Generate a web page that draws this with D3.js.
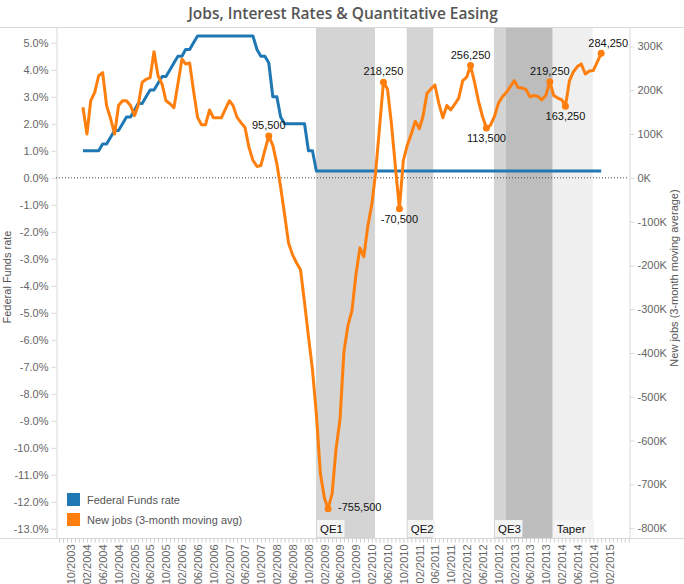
<!DOCTYPE html>
<html><head><meta charset="utf-8">
<script src="https://cdn.jsdelivr.net/npm/d3@7"></script>
<style>
body{margin:0;background:#fff}
svg{display:block}
text{font-family:"Liberation Sans",Arial,sans-serif}
</style>
</head><body>
<svg id="c" width="684" height="584"></svg>
<script>
// ---------------- data ----------------
const firstYear = 2004, firstMonth = 0; // series start Jan 2004, monthly
const fedFunds = [
  1.0,1.0,1.0,1.0,1.0,1.25,1.25,1.5,1.75,1.75,2.0,2.25,
  2.25,2.5,2.75,2.75,3.0,3.25,3.25,3.5,3.75,3.75,4.0,4.25,
  4.5,4.5,4.75,4.75,5.0,5.25,5.25,5.25,5.25,5.25,5.25,5.25,
  5.25,5.25,5.25,5.25,5.25,5.25,5.25,5.25,4.75,4.5,4.5,4.25,
  3.0,3.0,2.25,2.0,2.0,2.0,2.0,2.0,2.0,1.0,1.0,0.25,
  0.25,0.25,0.25,0.25,0.25,0.25,0.25,0.25,0.25,0.25,0.25,0.25,
  0.25,0.25,0.25,0.25,0.25,0.25,0.25,0.25,0.25,0.25,0.25,0.25,
  0.25,0.25,0.25,0.25,0.25,0.25,0.25,0.25,0.25,0.25,0.25,0.25,
  0.25,0.25,0.25,0.25,0.25,0.25,0.25,0.25,0.25,0.25,0.25,0.25,
  0.25,0.25,0.25,0.25,0.25,0.25,0.25,0.25,0.25,0.25,0.25,0.25,
  0.25,0.25,0.25,0.25,0.25,0.25,0.25,0.25,0.25,0.25,0.25,0.25
];
// new jobs, 3-month moving average, thousands
const newJobs = [
  161,100,176,195,233,240,165,135,100,165,176,176,
  165,142,165,218,225,229,288,233,214,176,169,160,
  215,271,260,262,199,138,121,121,155,137,137,137,
  157,176,165,138,126,115,70,40,26,28,63,95.5,
  74,32,-21,-85,-149,-176,-194,-210,-285,-362,-438,-540,
  -676,-731,-755.5,-722,-620,-551,-397,-337,-303,-222,-160,-180,
  -110,-60,10,115,218.25,203,125,25,-70.5,40,75,100,
  129,112,140,193,203,212,170,137,165,155,168,182,
  222,230,256.25,218,175,140,113.5,120,140,170,185,195,
  208,222,206,205,202,185,188,186,178,188,219.25,188,
  182,178,163.25,222,242,254,260,237,244,245,265,284.25
];
const labeledIdx = [47, 62, 76, 80, 98, 102, 118, 122, 131];
const labelPlacement = ["above","right","above","below","above","below","above","below","aboveRight"];

const periodNames = ["QE1","QE2","QE3","","Taper"];
const periodStart = ["2008-11-28","2010-10-27","2012-08-28","2012-11-29","2013-11-23"];
const periodEnd   = ["2010-02-25","2011-05-19","2012-11-29","2013-11-23","2014-09-27"];
const periodFill  = ["#d4d4d4","#d4d4d4","#d4d4d4","#bdbdbd","#efefef"];

const leftTicks = [5,4,3,2,1,0,-1,-2,-3,-4,-5,-6,-7,-8,-9,-10,-11,-12,-13];
const rightTicks = [300,200,100,0,-100,-200,-300,-400,-500,-600,-700,-800];
const seriesNames = ["Federal Funds rate","New jobs (3-month moving avg)"];
const seriesColors = ["#1f77b4","#ff7f0e"];

// ---------------- layout ----------------
const W = 684, H = 584;
const L = 56, R = 629, T = 27, B = 538;
const svg = d3.select("#c");
const parse = d3.timeParse("%Y-%m-%d");
const dates = newJobs.map((d,i)=> new Date(firstYear, firstMonth + i, 1));
const loc = d3.formatLocale({decimal:".", thousands:",", grouping:[3], currency:["$",""], minus:"-"});

const x = d3.scaleTime().domain([new Date(2003,5,8), new Date(2015,6,3)]).range([L, R]);
const y0 = 177.8;
const yL = d3.scaleLinear().domain([(y0-T)/27.0, -(B-y0)/27.0]).range([T, B]);
const yR = d3.scaleLinear().domain([(y0-T)/0.4379, -(B-y0)/0.4379]).range([T, B]);

// title
svg.append("text").attr("x", 343).attr("y", 19).attr("text-anchor","middle")
  .style("font-family","'Open Sans',sans-serif").style("font-size","15.5px").style("font-weight","600")
  .attr("fill","#555").text("Jobs, Interest Rates & Quantitative Easing");

// shaded periods
const periods = periodNames.map((n,i)=>({name:n, s:parse(periodStart[i]), e:parse(periodEnd[i]), fill:periodFill[i]}));
svg.append("g").selectAll("rect").data(periods).join("rect")
  .attr("x", d=>x(d.s)).attr("width", d=>x(d.e)-x(d.s))
  .attr("y", T).attr("height", B-T).attr("fill", d=>d.fill);

// frame lines
svg.append("line").attr("x1",0).attr("x2",W).attr("y1",T+0.5).attr("y2",T+0.5).attr("stroke","#d9d9d9");
svg.append("line").attr("x1",0).attr("x2",W).attr("y1",B+0.5).attr("y2",B+0.5).attr("stroke","#d9d9d9");

// left axis
const gL = svg.append("g").attr("transform",`translate(${L+0.5},0)`)
  .call(d3.axisLeft(yL).tickValues(leftTicks).tickSize(5).tickPadding(3).tickFormat(d=>loc.format(".1f")(d)+"%"));
gL.select(".domain").attr("stroke","#d9d9d9");
gL.selectAll(".tick line").attr("stroke","#d9d9d9");
gL.selectAll(".tick text").attr("fill","#666").style("font-size","11px");

// right axis
const gR = svg.append("g").attr("transform",`translate(${R+0.5},0)`)
  .call(d3.axisRight(yR).tickValues(rightTicks).tickSize(5).tickPadding(3).tickFormat(d=>loc.format("d")(d)+"K"));
gR.select(".domain").attr("stroke","#d9d9d9");
gR.selectAll(".tick line").attr("stroke","#d9d9d9");
gR.selectAll(".tick text").attr("fill","#666").style("font-size","11px");

// bottom axis: monthly minor ticks, labels every 4 months
const gB = svg.append("g").attr("transform",`translate(0,${B+0.5})`)
  .call(d3.axisBottom(x).ticks(d3.timeMonth.every(1)).tickSize(4).tickFormat(""));
gB.select(".domain").remove();
gB.selectAll(".tick line").attr("stroke","#ccc");
const labelMonths = d3.timeMonth.range(new Date(2003,9,1), new Date(2015,2,1), 4);
const gB2 = svg.append("g").attr("transform",`translate(0,${B+0.5})`)
  .call(d3.axisBottom(x).tickValues(labelMonths).tickSize(0).tickFormat(d3.timeFormat("%m/%Y")));
gB2.select(".domain").remove();
gB2.selectAll(".tick text").attr("fill","#666").style("font-size","11px")
  .attr("transform","rotate(-90)").attr("text-anchor","end").attr("x",-6).attr("y",0).attr("dy","0.35em");

// zero line
svg.append("line").attr("x1",L).attr("x2",R).attr("y1",yL(0)).attr("y2",yL(0))
  .attr("stroke","#444").attr("stroke-dasharray","1,2");

// period labels
const pl = svg.append("g").selectAll("g").data(periods.filter(d=>d.name)).join("g")
  .attr("transform", d=>`translate(${x(d.s)+1},${B-18})`);
pl.append("rect").attr("width", d=>d.name.length*6.5+8).attr("height",17).attr("fill","#f4f4f4");
pl.append("text").attr("x",3).attr("y",13).style("font-size","11.5px").attr("fill","#111").text(d=>d.name);

// lines
const lineFed = d3.line().x((d,i)=>x(dates[i])).y(d=>yL(d));
const lineJobs = d3.line().x((d,i)=>x(dates[i])).y(d=>yR(d));
svg.append("path").datum(fedFunds).attr("d",lineFed).attr("fill","none")
  .attr("stroke",seriesColors[0]).attr("stroke-width",3).attr("stroke-linejoin","round");
svg.append("path").datum(newJobs).attr("d",lineJobs).attr("fill","none")
  .attr("stroke",seriesColors[1]).attr("stroke-width",3).attr("stroke-linejoin","round");

// labeled points
const fmt = loc.format(",");
labeledIdx.forEach((i,k)=>{
  const px = x(dates[i]), py = yR(newJobs[i]);
  svg.append("circle").attr("cx",px).attr("cy",py).attr("r",3.5).attr("fill",seriesColors[1]);
  const t = svg.append("text").style("font-size","11px").attr("fill","#111").text(fmt(Math.round(newJobs[i]*1000)));
  const p = labelPlacement[k];
  if(p==="above") t.attr("x",px).attr("y",py-7).attr("text-anchor","middle");
  else if(p==="below") t.attr("x",px).attr("y",py+14).attr("text-anchor","middle");
  else if(p==="right") t.attr("x",px+10).attr("y",py+2);
  else if(p==="aboveRight") t.attr("x",px+7).attr("y",py-6).attr("text-anchor","middle");
});

// axis titles
svg.append("text").attr("transform","translate(11,277) rotate(-90)").attr("text-anchor","middle")
  .style("font-size","11px").attr("fill","#555").text("Federal Funds rate");
svg.append("text").attr("transform","translate(678,278) rotate(-90)").attr("text-anchor","middle")
  .style("font-size","11px").attr("fill","#555").text("New jobs (3-month moving average)");

// legend
const lg = svg.append("g").attr("transform","translate(67,493)");
seriesNames.forEach((n,i)=>{
  lg.append("rect").attr("x",0).attr("y",i*20).attr("width",13).attr("height",13).attr("fill",seriesColors[i]);
  lg.append("text").attr("x",20).attr("y",i*20+11).style("font-size","11px").attr("fill","#555").text(n);
});
</script>
</body></html>
